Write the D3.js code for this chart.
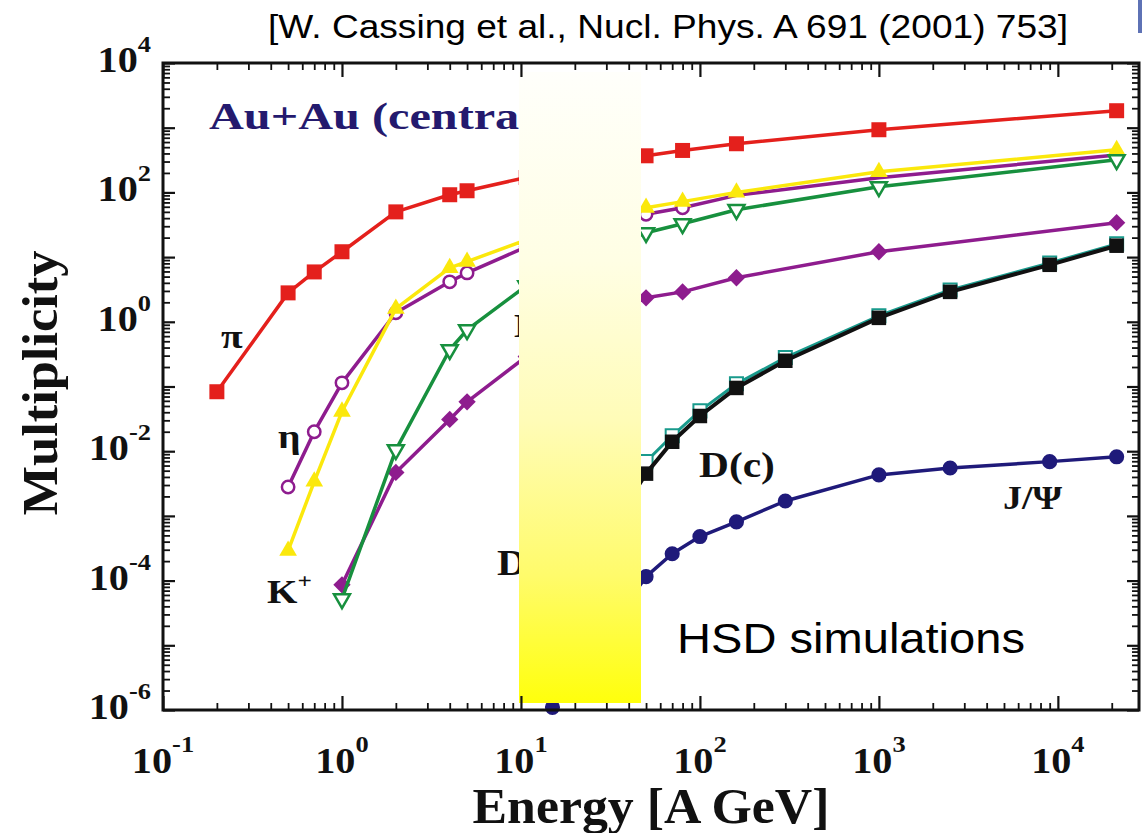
<!DOCTYPE html>
<html><head><meta charset="utf-8">
<script src="https://cdn.jsdelivr.net/npm/d3@7"></script>
<style>body{margin:0;background:#fff}svg{display:block}</style>
</head><body>
<svg id="chart" width="1142" height="833"></svg>
<script>
// ---------------- data (energy in A GeV, multiplicity) ----------------
const energiesLight = [0.2, 0.5, 0.7, 1, 2, 4, 5, 10.7, 50, 80, 160, 1000, 21300];
const pionMult      = [0.083, 2.8, 5.9, 12.1, 50, 92, 106, 170, 368, 445, 565, 930, 1830];

const energiesEta   = [0.5, 0.7, 1, 2, 4, 5, 10.7, 50, 80, 160, 1000, 21300];
const etaMult       = [2.8e-3, 0.020, 0.114, 1.38, 4.15, 5.7, 14.4, 46, 58, 90, 168, 380];
const etaMarkerEnergies = [0.5, 0.7, 1, 2, 4, 5, 10.7, 50, 80];

const energiesKplus = [0.5, 0.7, 1, 2, 4, 5, 10.7, 50, 80, 160, 1000, 21300];
const kplusMult     = [2.9e-4, 3.4e-3, 0.041, 1.6, 6.8, 8.5, 18.5, 58, 72, 100, 208, 455];

const energiesHeavyS = [1, 2, 4, 5, 10.7, 50, 80, 160, 1000, 21300];
const kminusMult     = [5.2e-5, 0.0105, 0.37, 0.75, 3.6, 23.8, 32.7, 54, 122, 319];
const phiMult        = [8.6e-5, 4.7e-3, 0.031, 0.058, 0.29, 2.35, 2.9, 4.8, 12.1, 34];

const energiesCharm = [40, 50, 70, 100, 160, 300, 1000, 2500, 9000, 21300];
const dMult         = [1.7e-3, 4.5e-3, 0.014, 0.035, 0.095, 0.25, 1.15, 2.9, 7.6, 15];
const dbarMult      = [2.6e-3, 6.9e-3, 0.0173, 0.042, 0.11, 0.28, 1.24, 3.1, 8.1, 16];

const energiesJpsi  = [15, 50, 70, 100, 160, 300, 1000, 2500, 9000, 21300];
const jpsiMult      = [1.1e-6, 1.15e-4, 2.6e-4, 4.8e-4, 8.1e-4, 1.7e-3, 4.3e-3, 5.5e-3, 6.9e-3, 8.2e-3];

const xTickExponents = [-1, 0, 1, 2, 3, 4];
const yTickExponents = [-6, -4, -2, 0, 2, 4];

// ---------------- layout ----------------
const svg = d3.select("#chart");
const L = 163, R = 1139, T = 63, B = 710;
const x = d3.scaleLog().domain([0.1, 28400]).range([L, R]);
const y = d3.scaleLog().domain([1e-6, 1e4]).range([B, T]);

const zip = (es, vs) => es.map((e, i) => ({e, v: vs[i]}));
const line = d3.line().x(d => x(d.e)).y(d => y(d.v));

const plot = svg.append("g");

function series(data, color, width) {
  plot.append("path").datum(data).attr("d", line)
    .attr("fill", "none").attr("stroke", color).attr("stroke-width", width)
    .attr("stroke-linejoin", "round");
}
function markers(data, symType, size, fill, stroke, sw, rot) {
  plot.append("g").selectAll("path").data(data).join("path")
    .attr("d", d3.symbol().type(symType).size(size))
    .attr("transform", d => `translate(${x(d.e)},${y(d.v)}) rotate(${rot||0})`)
    .attr("fill", fill).attr("stroke", stroke || "none").attr("stroke-width", sw || 0);
}

const cRed = "#e4201c", cPurple = "#8e1c8e", cYellow = "#fbe80c", cGreen = "#17903e",
      cTeal = "#199a8c", cNavy = "#1f1a7a";

// pions
const pi = zip(energiesLight, pionMult);
series(pi, cRed, 3.5);
markers(pi, d3.symbolSquare, 225, cRed);

// phi-like (purple diamonds)
const phi = zip(energiesHeavyS, phiMult);
series(phi, cPurple, 3.5);
markers(phi, d3.symbolSquare, 150, cPurple, null, 0, 45);

// eta
const eta = zip(energiesEta, etaMult);
series(eta, cPurple, 3.5);
markers(eta.filter(d => etaMarkerEnergies.includes(d.e)), d3.symbolCircle, 120, "#fff", cPurple, 2.5);

// K+
const kp = zip(energiesKplus, kplusMult);
series(kp, cYellow, 3.5);
markers(kp, d3.symbolTriangle, 135, cYellow);

// K-
const km = zip(energiesHeavyS, kminusMult);
series(km, cGreen, 3.5);
markers(km, d3.symbolTriangle, 110, "#fff", cGreen, 2.5, 180);

// Dbar (teal open squares) and D (black squares)
const dbar = zip(energiesCharm, dbarMult);
series(dbar, cTeal, 3);
markers(dbar, d3.symbolSquare, 170, "#fff", cTeal, 2);
const dd = zip(energiesCharm, dMult);
series(dd, "#111", 4);
markers(dd, d3.symbolSquare, 210, "#111");

// J/Psi
const jp = zip(energiesJpsi, jpsiMult);
series(jp, cNavy, 3.5);
markers(jp, d3.symbolCircle, 180, cNavy);

// ---------------- labels ----------------
const serif = "'Liberation Serif','Times New Roman',serif";
const sans = "'Liberation Sans',Arial,sans-serif";
function stext(px, py, sx, size, opts) {
  opts = opts || {};
  return svg.append("text")
    .attr("transform", `translate(${px},${py}) scale(${sx},1)`)
    .attr("font-family", opts.family || serif)
    .attr("font-weight", opts.weight || "bold")
    .attr("font-size", size)
    .attr("text-anchor", opts.anchor || "start")
    .attr("fill", opts.fill || "#111");
}
function supLabel(px, py, sx, size, base, sup, supSize, dy, anchor) {
  const t = stext(px, py, sx, size, {anchor});
  t.append("tspan").text(base);
  t.append("tspan").attr("font-size", supSize).attr("dy", dy).text(sup);
  return t;
}

stext(209, 129, 1.27, 38, {fill: "#241a6e"}).text("Au+Au (central)");
stext(221, 348, 1.2, 33).text("π");
stext(278, 448, 1.2, 33).text("η");
supLabel(267, 603, 1.15, 34, "K", "+", 22, -15);
supLabel(514, 337, 1.15, 34, "K", "−", 22, -15);
stext(497, 575, 1.15, 36).text("D(c)");
stext(699, 477, 1.15, 36).text("D(c)");
stext(1003, 509, 1.15, 33).text("J/Ψ");

// gradient overlay
const defs = svg.append("defs");
const grad = defs.append("linearGradient").attr("id", "yg").attr("x1", 0).attr("y1", 0).attr("x2", 0).attr("y2", 1);
[[0, "#fffffb"], [0.3, "#fffee4"], [0.55, "#fffcb8"], [0.8, "#fffb6a"], [1, "#ffff0c"]]
  .forEach(([o, c]) => grad.append("stop").attr("offset", o).attr("stop-color", c));
svg.append("rect").attr("x", 519).attr("y", 72).attr("width", 122).attr("height", 631).attr("fill", "url(#yg)");

// ---------------- axes ----------------
const xMajor = xTickExponents.map(k => Math.pow(10, k));
const xMinor = [];
for (let k = -1; k <= 4; k++) for (let m = 2; m <= 9; m++) { const v = m * Math.pow(10, k); if (v <= 28400) xMinor.push(v); }
const yMajor = d3.range(-6, 5).map(k => Math.pow(10, k));
const yMinor = [];
for (let k = -6; k <= 3; k++) for (let m = 2; m <= 9; m++) yMinor.push(m * Math.pow(10, k));

function drawAxis(axisFn, scale, vals, len, tr, sw) {
  svg.append("g").attr("transform", tr)
    .call(axisFn(scale).tickValues(vals).tickSize(-len).tickFormat(""))
    .call(g => g.select(".domain").remove())
    .call(g => g.selectAll("line").attr("stroke", "#111").attr("stroke-width", sw));
}
drawAxis(d3.axisBottom, x, xMajor, 14, `translate(0,${B})`, 2.2);
drawAxis(d3.axisBottom, x, xMinor, 7, `translate(0,${B})`, 1.8);
drawAxis(d3.axisTop, x, xMajor, 14, `translate(0,${T})`, 2.2);
drawAxis(d3.axisTop, x, xMinor, 7, `translate(0,${T})`, 1.8);
drawAxis(d3.axisLeft, y, yMajor, 12, `translate(${L},0)`, 2.2);
drawAxis(d3.axisLeft, y, yMinor, 7, `translate(${L},0)`, 1.8);
drawAxis(d3.axisRight, y, yMajor, 12, `translate(${R},0)`, 2.2);
drawAxis(d3.axisRight, y, yMinor, 7, `translate(${R},0)`, 1.8);

svg.append("rect").attr("x", L).attr("y", T).attr("width", R - L).attr("height", B - T)
  .attr("fill", "none").attr("stroke", "#111").attr("stroke-width", 3);

// tick labels
xTickExponents.forEach(k => supLabel(x(Math.pow(10, k)), 773, 1.15, 35, "10", String(k), 23, -21, "middle"));
yTickExponents.forEach(k => supLabel(151, y(Math.pow(10, k)) + 9, 1.15, 35, "10", String(k), 23, -20, "end"));

// axis titles
svg.append("text").attr("transform", "translate(57,383) rotate(-90)")
  .attr("font-family", serif).attr("font-weight", "bold").attr("font-size", 50)
  .attr("text-anchor", "middle").attr("textLength", 265).attr("lengthAdjust", "spacingAndGlyphs")
  .attr("fill", "#111").text("Multiplicity");
svg.append("text").attr("x", 651).attr("y", 823)
  .attr("font-family", serif).attr("font-weight", "bold").attr("font-size", 50)
  .attr("text-anchor", "middle").attr("textLength", 357).attr("lengthAdjust", "spacingAndGlyphs")
  .attr("fill", "#111").text("Energy [A GeV]");

// annotations
svg.append("text").attr("x", 677).attr("y", 653)
  .attr("font-family", sans).attr("font-size", 43)
  .attr("textLength", 348).attr("lengthAdjust", "spacingAndGlyphs")
  .attr("fill", "#000").text("HSD simulations");
svg.append("text").attr("x", 268).attr("y", 38)
  .attr("font-family", sans).attr("font-size", 33)
  .attr("textLength", 800).attr("lengthAdjust", "spacingAndGlyphs")
  .attr("fill", "#000").text("[W. Cassing et al., Nucl. Phys. A 691 (2001) 753]");
svg.append("rect").attr("x", 1138).attr("y", 0).attr("width", 4).attr("height", 33).attr("fill", "#5e72b5");
</script>
</body></html>
